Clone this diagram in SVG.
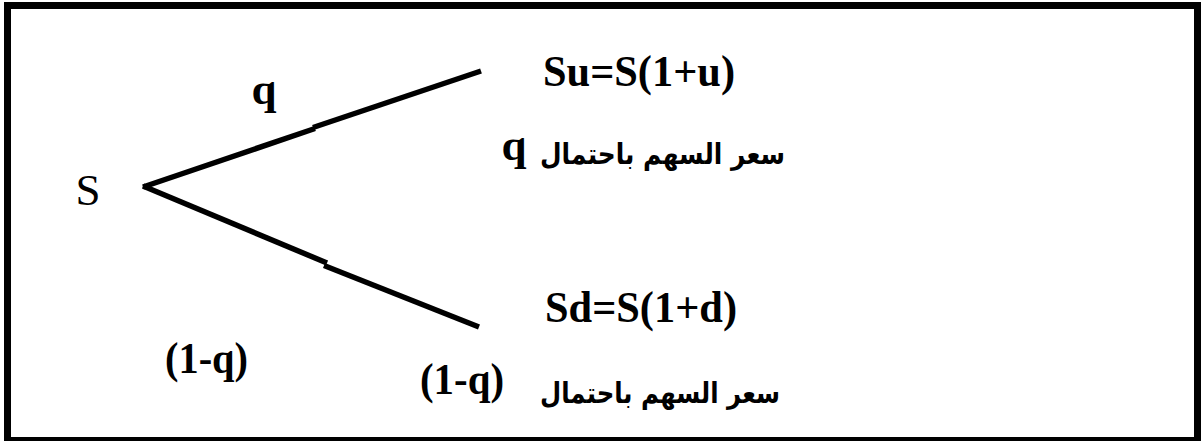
<svg xmlns="http://www.w3.org/2000/svg" width="1203" height="441" viewBox="0 0 1203 441">
<style>
.lat{font-family:"Liberation Serif","Times New Roman",serif;font-weight:bold;font-size:45px;fill:#000}
.reg{font-family:"Liberation Serif","Times New Roman",serif;font-size:45px;fill:#000}
.ar{font-family:"DejaVu Sans","Noto Sans",sans-serif;font-weight:bold;font-size:29px;fill:#000}
.edge{stroke:#000;stroke-width:5.5;fill:none;stroke-linecap:butt}
</style>
<rect x="7.5" y="5.5" width="1190" height="435" fill="#fff" stroke="#000" stroke-width="7"/>
<g id="connectors">
<polyline class="edge" points="143,187 315,128.5"/>
<polyline class="edge" points="313,127.5 481,71"/>
<polyline class="edge" points="143,186 327,263"/>
<polyline class="edge" points="324,265.5 479,327"/>
</g>
<g id="node-S">
<text class="reg" x="88" y="205" text-anchor="middle">S</text>
</g>
<g id="label-q">
<text class="lat" x="264" y="104" text-anchor="middle">q</text>
</g>
<g id="label-1-q">
<text class="lat" x="165" y="373" textLength="83" lengthAdjust="spacingAndGlyphs">(1-q)</text>
</g>
<g id="node-up">
<text class="lat" x="543" y="86" textLength="192" lengthAdjust="spacingAndGlyphs">Su=S(1+u)</text>
<text class="lat" x="514" y="160" text-anchor="middle">q</text>
<text class="ar" x="540" y="164" textLength="245" lengthAdjust="spacingAndGlyphs">سعر السهم باحتمال</text>
</g>
<g id="node-down">
<text class="lat" x="545" y="322" textLength="192" lengthAdjust="spacingAndGlyphs">Sd=S(1+d)</text>
<text class="lat" x="420" y="394" textLength="84" lengthAdjust="spacingAndGlyphs">(1-q)</text>
<text class="ar" x="540" y="403" textLength="240" lengthAdjust="spacingAndGlyphs">سعر السهم باحتمال</text>
</g>
</svg>
